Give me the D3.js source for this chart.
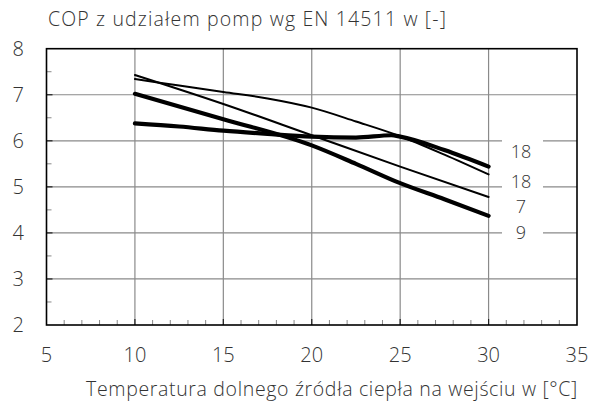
<!DOCTYPE html>
<html><head><meta charset="utf-8">
<script src="https://cdn.jsdelivr.net/npm/d3@7"></script>
<style>body{margin:0;background:#fff}svg{display:block}text{font-family:"Open Sans","Liberation Sans",Arial,sans-serif;font-weight:300;fill:#333}</style>
</head><body><svg id="c" width="592" height="405"></svg>
<script>
const xTicks = [5,10,15,20,25,30,35];
const yTicks = [2,3,4,5,6,7,8];
const titleText = "COP z udziałem pomp wg EN 14511 w [-]";
const xTitleText = "Temperatura dolnego źródła ciepła na wejściu w [°C]";

const s7x = [10,15,20,25,30];
const s7y = [7.43,6.80,6.12,5.44,4.78];
const s18tx = [10,12.5,15,17.5,20,22.5,25,27.5,30];
const s18ty = [7.34,7.20,7.06,6.92,6.72,6.42,6.10,5.70,5.27];
const s9x = [10,15,20,22.5,25,27.5,30];
const s9y = [7.02,6.47,5.90,5.50,5.08,4.73,4.37];
const s18x = [10,12.5,15,17.5,20,22.5,24.5,25,27.5,30];
const s18y = [6.38,6.31,6.22,6.15,6.09,6.07,6.12,6.09,5.80,5.44];
const seriesLabels = ["18","18","7","9"];

const svg = d3.select("#c");
const x = d3.scaleLinear().domain([5,35]).range([46.5,577]);
const y = d3.scaleLinear().domain([2,8]).range([325,48.7]);

// grid
svg.append("g").selectAll("line").data([10,15,20,25,30]).join("line")
  .attr("x1",d=>x(d)).attr("x2",d=>x(d)).attr("y1",y(8)).attr("y2",y(2))
  .attr("stroke","#8a8a8a").attr("stroke-width",1.2);
svg.append("g").selectAll("line").data([3,4,5,6,7]).join("line")
  .attr("x1",x(5)).attr("x2",x(35)).attr("y1",d=>y(d)).attr("y2",d=>y(d))
  .attr("stroke","#8a8a8a").attr("stroke-width",1.2);

// minor ticks
svg.append("g").selectAll("line").data(d3.range(2.5,8,1)).join("line")
  .attr("x1",x(5)).attr("x2",x(5)+5).attr("y1",d=>y(d)).attr("y2",d=>y(d))
  .attr("stroke","#888").attr("stroke-width",1);
svg.append("g").selectAll("line").data(d3.range(6,35,1).filter(d=>d%5)).join("line")
  .attr("x1",d=>x(d)).attr("x2",d=>x(d)).attr("y1",y(2)).attr("y2",y(2)-5)
  .attr("stroke","#888").attr("stroke-width",1);
svg.append("g").selectAll("line").data([3,4,5,6,7]).join("line")
  .attr("x1",x(5)).attr("x2",x(5)+6).attr("y1",d=>y(d)).attr("y2",d=>y(d))
  .attr("stroke","#222").attr("stroke-width",1.2);
svg.append("g").selectAll("line").data([10,15,20,25,30]).join("line")
  .attr("x1",d=>x(d)).attr("x2",d=>x(d)).attr("y1",y(2)).attr("y2",y(2)-6)
  .attr("stroke","#222").attr("stroke-width",1.2);

// label background
svg.append("rect").attr("x",502).attr("y",132).attr("width",41).attr("height",112).attr("fill","#fff");

// lines
const line = d3.line().x(d=>x(d[0])).y(d=>y(d[1])).curve(d3.curveMonotoneX);
const series = [
  {xs:s18x, ys:s18y, w:4.2},
  {xs:s9x, ys:s9y, w:4.2},
  {xs:s18tx, ys:s18ty, w:2},
  {xs:s7x, ys:s7y, w:2}
];
svg.append("g").selectAll("path").data(series).join("path")
  .attr("d",s=>line(s.xs.map((v,i)=>[v,s.ys[i]])))
  .attr("fill","none").attr("stroke","#000").attr("stroke-width",s=>s.w)
  .attr("stroke-linecap","round").attr("stroke-linejoin","round");

// border
svg.append("rect").attr("x",x(5)).attr("y",y(8)).attr("width",x(35)-x(5)).attr("height",y(2)-y(8))
  .attr("fill","none").attr("stroke","#000").attr("stroke-width",1.6);

// series labels
const labY = [152,182,207,233];
svg.append("g").selectAll("text").data(seriesLabels).join("text")
  .attr("x",521).attr("y",(d,i)=>labY[i]).attr("dy","0.36em").attr("text-anchor","middle")
  .attr("font-size",18).text(d=>d);

// tick labels
svg.append("g").selectAll("text").data(yTicks).join("text")
  .attr("x",24).attr("y",d=>y(d)).attr("dy","0.36em").attr("text-anchor","end")
  .attr("font-size",20).text(d=>d);
svg.append("g").selectAll("text").data(xTicks).join("text")
  .attr("x",d=>x(d)).attr("y",362).attr("text-anchor","middle")
  .attr("font-size",20).text(d=>d);

function fit(t, target){
  const w = t.node().getComputedTextLength();
  const n = t.text().length;
  t.attr("letter-spacing", ((target - w) / n) + "px");
}
const tt = svg.append("text").attr("x",48).attr("y",26).attr("font-size",19.5).text(titleText);
fit(tt, 399);
const xt = svg.append("text").attr("x",578).attr("y",396).attr("text-anchor","end").attr("font-size",19.5).text(xTitleText);
fit(xt, 492);
</script></body></html>
